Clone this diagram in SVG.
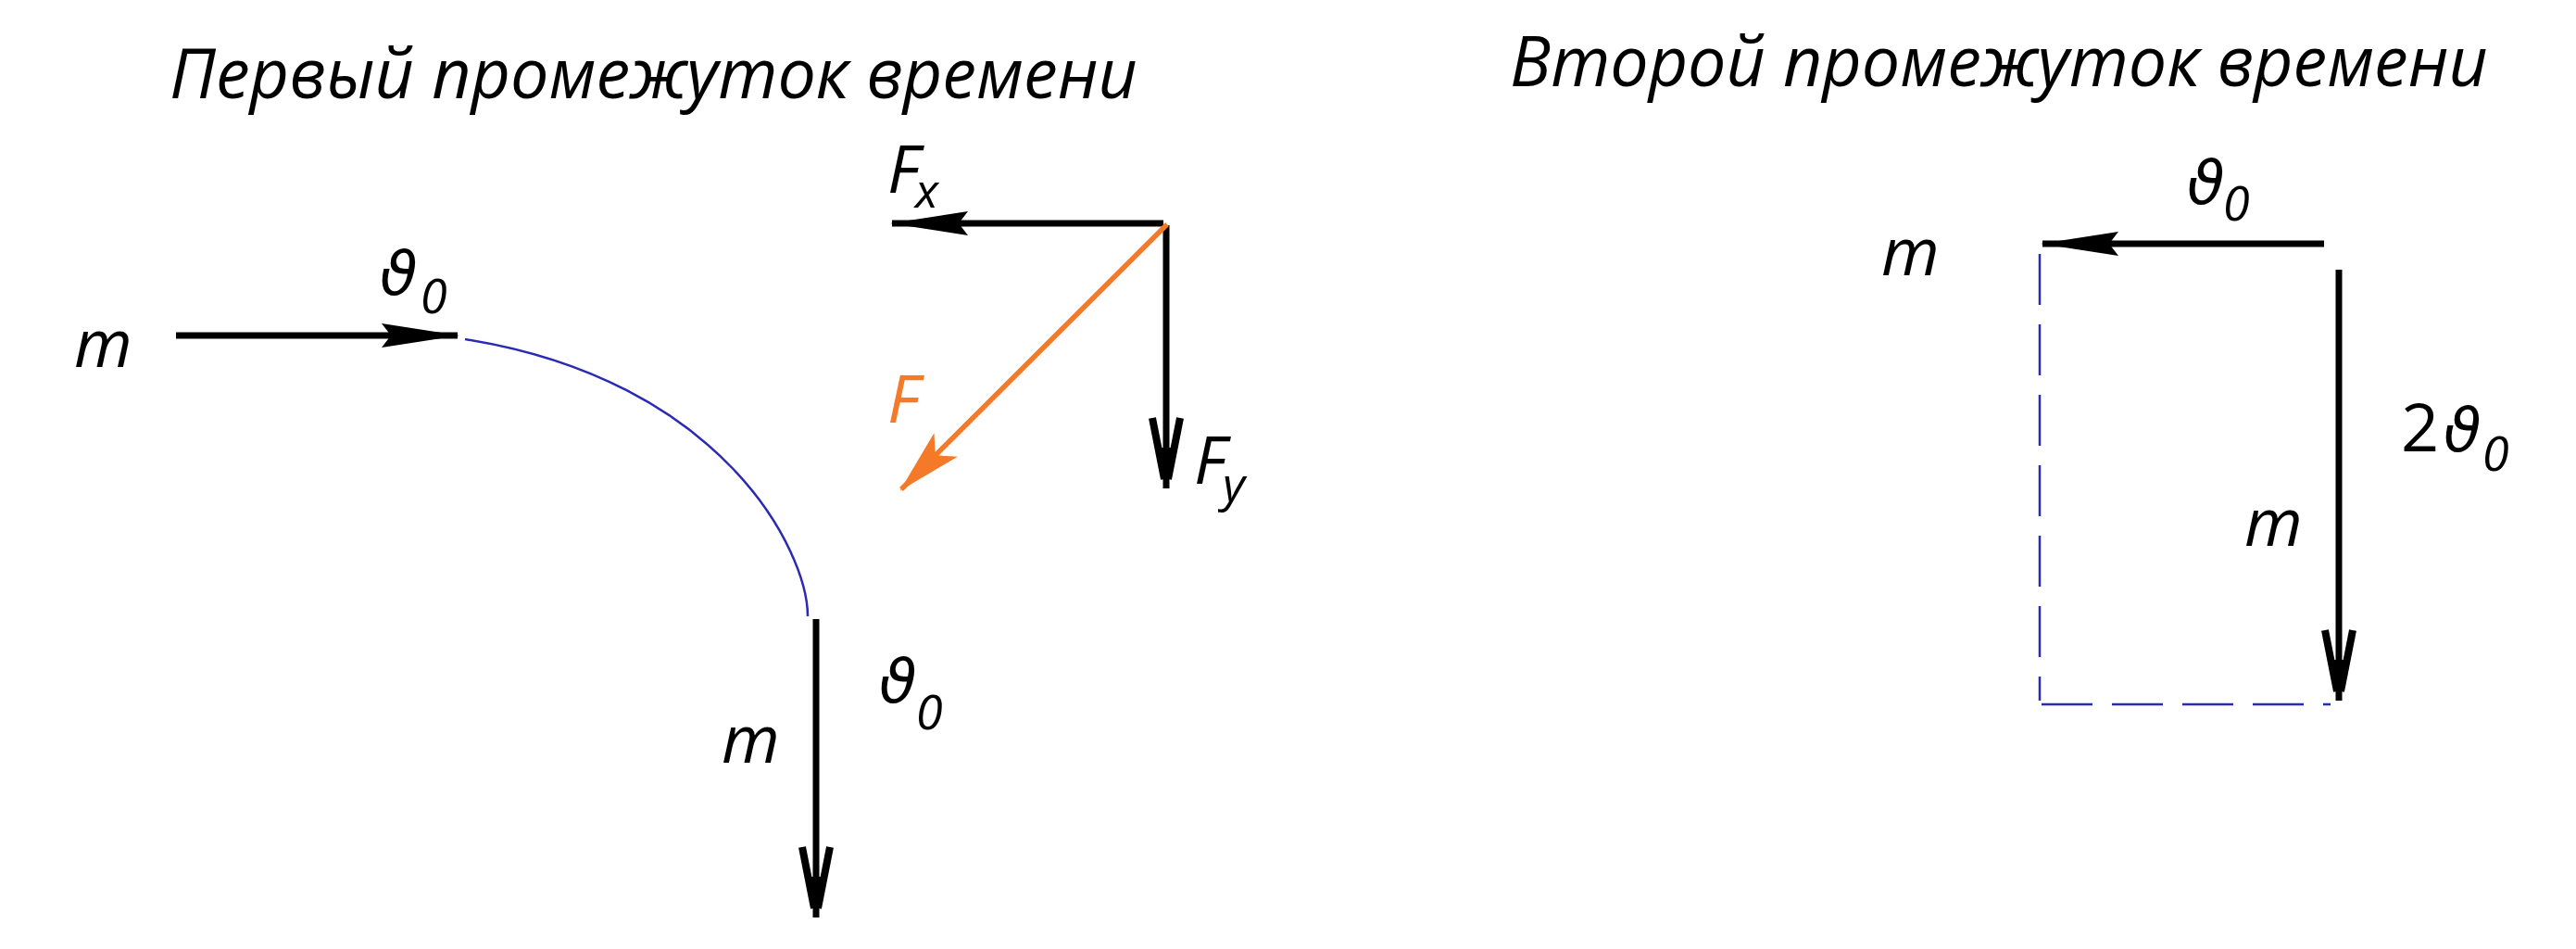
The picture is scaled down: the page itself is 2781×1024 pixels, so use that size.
<svg xmlns="http://www.w3.org/2000/svg" width="2781" height="1024" viewBox="0 0 2781 1024">
<style>
  .t { font-family: "Open Sans", "Noto Sans", "DejaVu Sans", sans-serif; font-style: italic; fill: #000; }
  .title { font-size: 75px; }
  .lbl { font-size: 72px; }
  .th { font-family: "DejaVu Sans", "Liberation Sans", sans-serif; font-style: italic; font-size: 66px; fill: #000; }
  .sub { font-size: 52px; }
  .or { fill: #f47a2a; }
  .blk { stroke: #000; stroke-width: 7; fill: none; }
  .org { stroke: #f47a2a; stroke-width: 5.5; fill: none; }
  .traj { stroke: #2a2ab4; stroke-width: 2.5; fill: none; }
  .dash { stroke: #2a2ab4; stroke-width: 2.5; fill: none; stroke-dasharray: 55 21; }
</style>
<defs>
  <marker id="headFill" markerUnits="userSpaceOnUse" orient="auto" refX="0" refY="0" markerWidth="1" markerHeight="1" overflow="visible">
    <path d="M2,0 L-82,-13 L-72,0 L-82,13 Z" fill="#000"/>
  </marker>
  <marker id="headV" markerUnits="userSpaceOnUse" orient="auto" refX="0" refY="0" markerWidth="1" markerHeight="1" overflow="visible">
    <path d="M-76,-15 L-10,-2 M-76,15 L-10,2" stroke="#000" stroke-width="8" fill="none"/>
    <path d="M0,0 L-44,-9 L-44,9 Z" fill="#000"/>
  </marker>
  <marker id="headOrange" markerUnits="userSpaceOnUse" orient="auto" refX="0" refY="0" markerWidth="1" markerHeight="1" overflow="visible">
    <path d="M2,0 L-68,-18 L-52,0 L-68,18 Z" fill="#f47a2a"/>
  </marker>
</defs>
<rect x="0" y="0" width="2781" height="1024" fill="#fff"/>

<g id="title-first">
  <text class="t title" x="183" y="106" textLength="1045" lengthAdjust="spacingAndGlyphs">Первый промежуток времени</text>
</g>
<g id="title-second">
  <text class="t title" x="1630" y="93" textLength="1056" lengthAdjust="spacingAndGlyphs">Второй промежуток времени</text>
</g>

<g id="connectors">
  <line id="v-in" class="blk" x1="190" y1="362" x2="494" y2="362" marker-end="url(#headFill)"/>
  <path id="trajectory" class="traj" d="M502,366 C780,410 872,595 872,665"/>
  <line id="v-out" class="blk" x1="881" y1="668" x2="881" y2="990" marker-end="url(#headV)"/>
  <line id="fx" class="blk" x1="1256" y1="241" x2="963" y2="241" marker-end="url(#headFill)"/>
  <line id="fy" class="blk" x1="1259" y1="243" x2="1259" y2="527" marker-end="url(#headV)"/>
  <line id="f" class="org" x1="1260" y1="242" x2="973" y2="528" marker-end="url(#headOrange)"/>
  <line id="v2-top" class="blk" x1="2509" y1="263" x2="2205" y2="263" marker-end="url(#headFill)"/>
  <line id="v2-down" class="blk" x1="2525" y1="291" x2="2525" y2="756" marker-end="url(#headV)"/>
  <line id="dash-v" class="dash" x1="2202" y1="274" x2="2202" y2="756"/>
  <line id="dash-h" class="dash" x1="2204" y1="760" x2="2516" y2="760"/>
</g>

<g id="node-m-in">
  <text class="t lbl" x="80" y="396">m</text>
  <text class="th" x="410" y="318">ϑ</text>
  <text class="t sub" x="454" y="338">0</text>
</g>
<g id="node-m-out">
  <text class="t lbl" x="779" y="823">m</text>
  <text class="th" x="949" y="758">ϑ</text>
  <text class="t sub" x="989" y="787">0</text>
</g>
<g id="node-forces">
  <text class="t lbl" x="958" y="208">F</text>
  <text class="t sub" x="988" y="224">x</text>
  <text class="t lbl or" x="958" y="456">F</text>
  <text class="t lbl" x="1289" y="522">F</text>
  <text class="t sub" x="1320" y="541">y</text>
</g>
<g id="node-m2-left">
  <text class="t lbl" x="2031" y="297">m</text>
  <text class="th" x="2361" y="220">ϑ</text>
  <text class="t sub" x="2400" y="238">0</text>
</g>
<g id="node-m2-down">
  <text class="t lbl" x="2423" y="589">m</text>
  <text class="t lbl" x="2592" y="487" style="font-style:normal">2</text>
  <text class="th" x="2638" y="487">ϑ</text>
  <text class="t sub" x="2680" y="508">0</text>
</g>
</svg>
